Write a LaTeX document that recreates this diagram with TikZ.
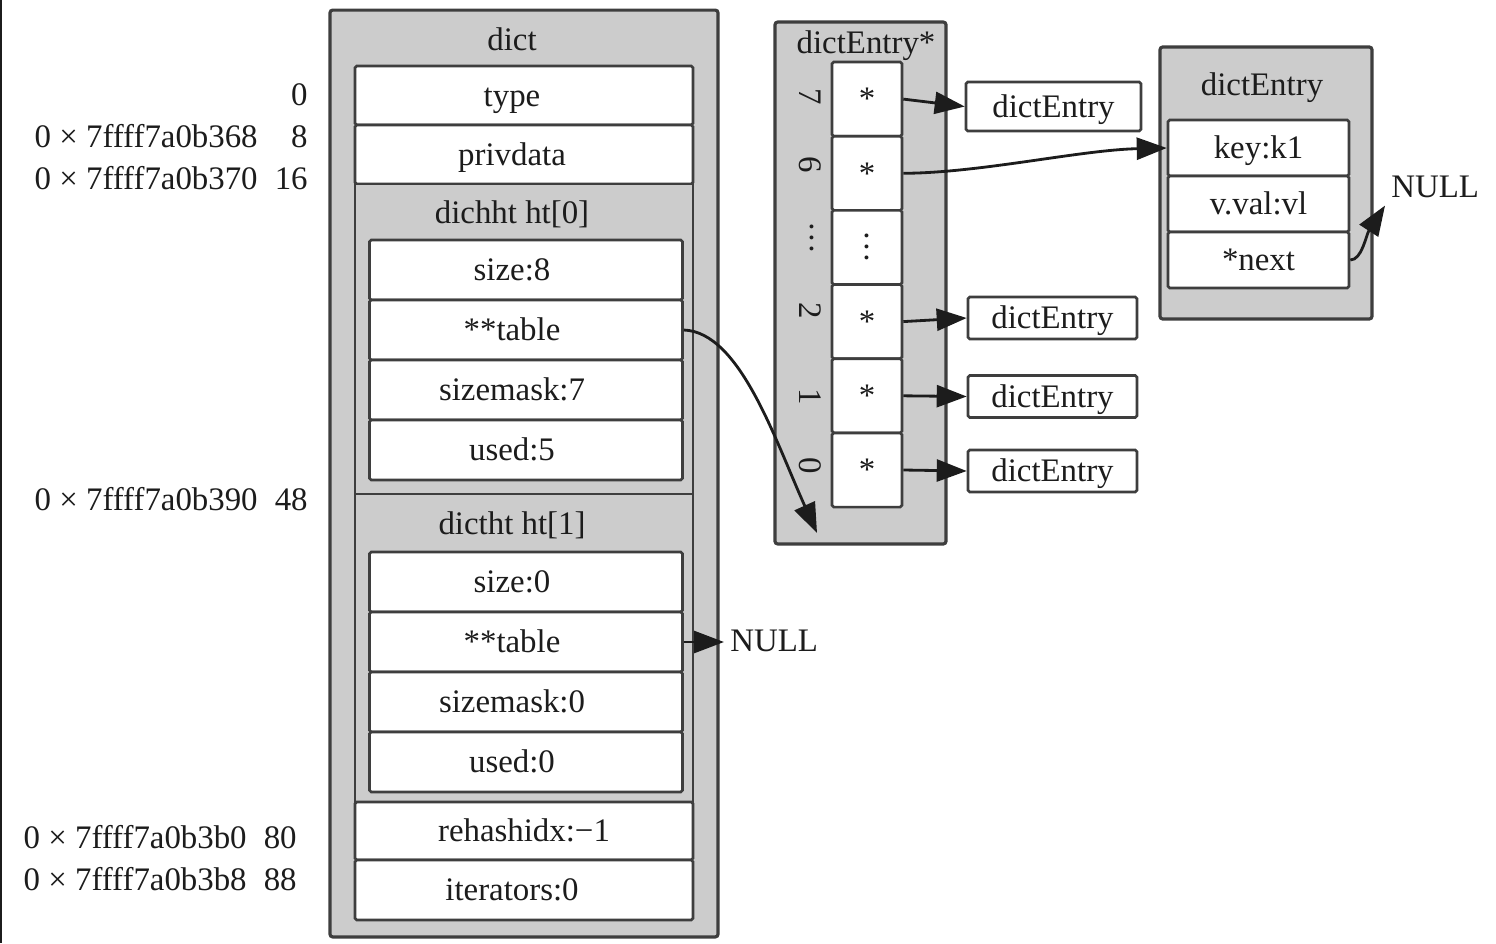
\documentclass[tikz,border=0pt]{standalone}
\usepackage{fontspec}
\setmainfont{Liberation Serif}
\usetikzlibrary{arrows.meta}

\definecolor{boxgray}{RGB}{204,204,204}
\definecolor{edgegray}{RGB}{62,62,62}
\definecolor{ink}{RGB}{28,28,28}

\begin{document}
\begin{tikzpicture}[x=0.02cm, y=-0.02cm,
  font=\fontsize{18.7}{22}\selectfont, text=ink,
  every node/.style={text height=15.9pt, text depth=3.7pt},
  outer/.style={draw=edgegray, fill=boxgray, line width=1.8pt, rounded corners=1.5pt, inner sep=0pt},
  row/.style={draw=edgegray, fill=white, line width=1.5pt, rounded corners=1pt, inner sep=0pt},
  drow/.style={row, minimum width=6.76cm, minimum height=1.18cm, label={[xshift=-0.24cm]center:{#1}}},
  hrow/.style={row, minimum width=6.26cm, minimum height=1.2cm, label={[xshift=-0.28cm]center:{#1}}},
  cell/.style={row, minimum width=1.4cm, minimum height=1.4833cm},
  idx/.style={rotate=-90, inner sep=0pt, text height=, text depth=},
  entry/.style={row, minimum width=3.38cm, minimum height=0.84cm},
  field/.style={row, minimum width=3.62cm, minimum height=1.12cm},
  addr/.style={anchor=east, inner sep=0pt},
  arr/.style={-{Triangle[length=0.6cm, width=0.44cm]}, line width=1.6pt, draw=ink}
]
\useasboundingbox (0,0) rectangle (1496,943);
\draw[line width=1.5pt, draw=ink] (1,0) -- (1,943);

% offsets
\node[addr] (off0) at (308,95) {0};
\node[addr] (adr8) at (258,137) {0 × 7ffff7a0b368};
\node[addr] (off8) at (308,137) {8};
\node[addr] (adr16) at (258,179) {0 × 7ffff7a0b370};
\node[addr] (off16) at (308,179) {16};
\node[addr] (adr48) at (258,500) {0 × 7ffff7a0b390};
\node[addr] (off48) at (308,500) {48};
\node[addr] (adr80) at (247,838) {0 × 7ffff7a0b3b0};
\node[addr] (off80) at (297,838) {80};
\node[addr] (adr88) at (247,880) {0 × 7ffff7a0b3b8};
\node[addr] (off88) at (297,880) {88};

% dict
\node[outer, minimum width=7.76cm, minimum height=18.54cm] (dict) at (524,473.5) {};
\node (dictT) at (512,40) {dict};
\node[drow=type] (type) at (524,95.5) {};
\node[drow=privdata] (priv) at (524,154.5) {};
\node[outer, line width=1.5pt, rounded corners=0pt, minimum width=6.76cm, minimum height=6.2cm] (ht0) at (524,339) {};
\node (ht0T) at (512,213) {dichht ht[0]};
\node[hrow=size:8] (size0) at (526,270) {};
\node[hrow=**table] (t0) at (526,330) {};
\node[hrow=sizemask:7] (mask0) at (526,390) {};
\node[hrow=used:5] (used0) at (526,450) {};
\node[outer, line width=1.5pt, rounded corners=0pt, minimum width=6.76cm, minimum height=6.16cm] (ht1) at (524,648) {};
\node (ht1T) at (512,524) {dictht ht[1]};
\node[hrow=size:0] (size1) at (526,582) {};
\node[hrow=**table] (t1) at (526,642) {};
\node[hrow=sizemask:0] (mask1) at (526,702) {};
\node[hrow=used:0] (used1) at (526,762) {};
\node[row, minimum width=6.76cm, minimum height=1.16cm, label={center:{rehashidx:−1}}] (rehash) at (524,831) {};
\node[drow=iterators:0, minimum height=1.2cm] (iter) at (524,890) {};

% dictEntry* array
\node[outer, minimum width=3.42cm, minimum height=10.44cm] (bucket) at (860.5,283) {};
\node (bucketT) at (866,43) {dictEntry*};
\node[cell] (c7) at (867,99.1) {*};
\node[cell] (c6) at (867,173.3) {*};
\node[cell, text height=, text depth=] (cd) at (867,247.4) {\rotatebox{-90}{…}};
\node[cell] (c2) at (867,321.6) {*};
\node[cell] (c1) at (867,395.8) {*};
\node[cell] (c0) at (867,470) {*};
\node[idx] (i7) at (810,97) {7};
\node[idx] (i6) at (810,165) {6};
\node[idx] (id) at (812,238) {…};
\node[idx] (i2) at (810,311) {2};
\node[idx] (i1) at (810,397) {1};
\node[idx] (i0) at (810,466) {0};

% entries
\node[entry, minimum width=3.5cm, minimum height=0.98cm] (e7) at (1053.5,106.5) {dictEntry};
\node[entry] (e2) at (1052.5,318) {dictEntry};
\node[entry] (e1) at (1052.5,396.5) {dictEntry};
\node[entry] (e0) at (1052.5,471) {dictEntry};

\node[outer, minimum width=4.24cm, minimum height=5.44cm] (de) at (1266,183) {};
\node (deT) at (1262,85) {dictEntry};
\node[field] (key) at (1258.5,148) {key:k1};
\node[field] (val) at (1258.5,204) {v.val:vl};
\node[field] (next) at (1258.5,260) {*next};
\node[anchor=west, inner xsep=0.12cm, inner ysep=0.02cm] (null1) at (1385,187) {NULL};
\node[anchor=west, inner sep=0.12cm] (null0) at (724,641) {NULL};

\coordinate (tblin) at (817,533);
\draw[arr] (t0.east) .. controls (740,332) and (775,440) .. (tblin);
\draw[arr] (t1.east) -- (t1.east -| null0.west);
\draw[arr] (c7.east) -- (e7.west);
\draw[arr] (c6.east) .. controls (980,173) and (1080,150) .. (key.west);
\draw[arr] (c2.east) -- (e2.west);
\draw[arr] (c1.east) -- (e1.west);
\draw[arr] (c0.east) -- (e0.west);
\draw[arr] (next.east) .. controls (1362,260) and (1366,235) .. (null1.south west);
\end{tikzpicture}
\end{document}
